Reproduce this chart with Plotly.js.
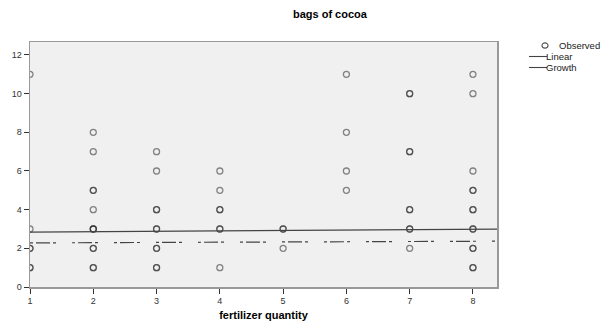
<!DOCTYPE html>
<html><head><meta charset="utf-8">
<script src="https://cdn.plot.ly/plotly-3.0.1.min.js"></script>
<style>body{margin:0;background:#fff}#c{width:611px;height:325px}</style>
</head><body><div id="c"></div>
<script>
// observed (fertilizer quantity, bags of cocoa); repeated pairs = overlapping cases
const fertilizer = [1,1,1,1,1,1,
  2,2,2,2,2,2,2,2,2,2,2,2,
  3,3,3,3,3,3,3,3,3,3,
  4,4,4,4,4,4,4,
  5,5,5,
  6,6,6,6,
  7,7,7,7,7,7,7,7,7,
  8,8,8,8,8,8,8,8,8,8,8,8,8];
const bags = [11,3,2,2,1,1,
  8,7,5,5,4,3,3,3,2,2,1,1,
  7,6,4,4,3,3,2,2,1,1,
  6,5,4,4,3,3,1,
  3,3,2,
  11,8,6,5,
  10,10,7,7,4,4,3,3,2,
  11,10,6,5,5,4,4,3,3,2,2,1,1];
const fitX = [1, 2, 3, 4, 5, 6, 7, 8, 8.4];
const linearFit = [2.84, 2.86, 2.88, 2.90, 2.92, 2.94, 2.96, 2.98, 2.99];
const growthFit = [2.28, 2.29, 2.31, 2.32, 2.33, 2.34, 2.35, 2.36, 2.37];
const xTicks = [1,2,3,4,5,6,7,8];
const yTicks = [0,2,4,6,8,10,12];
const legendNames = ['Observed', 'Linear', 'Growth'];

const FAM = 'Liberation Sans, Arial, sans-serif';
const font = {family: FAM, color: '#333', size: 9};
const GROWTH_DASH = '3px,3px,14px,3px,3px,16px';
const traces = [
  {type:'scatter', mode:'markers', name:legendNames[0], x: fertilizer, y: bags, cliponaxis: true,
   marker:{symbol:'circle-open', size:6, color:'rgba(40,40,40,0.55)', line:{width:1.3}}},
  {type:'scatter', mode:'lines', name:legendNames[1], x: fitX, y: linearFit,
   line:{color:'#444', width:1.2}},
  {type:'scatter', mode:'lines', name:legendNames[2], x: fitX, y: growthFit,
   line:{color:'#444', width:1.2, dash:GROWTH_DASH}}
];

// custom compact legend (paper coords from pixel positions)
const W = 611, H = 325, ML = 30, MR = 114, MT = 42, MB = 38;
const pw = W - ML - MR, ph = H - MT - MB;
const px = x => (x - ML) / pw;
const py = y => 1 - (y - MT) / ph;
const legY = [45.5, 56.5, 67.5];
const legFont = {family:FAM, size:9.5, color:'#222'};
const annotations = legendNames.map((t, i) => ({
  text: t, xref:'paper', yref:'paper', x: px(i === 0 ? 558 : 545), y: py(legY[i]),
  xanchor:'left', yanchor:'middle', showarrow:false, borderpad:0, font:legFont
}));
const shapes = [
  {type:'circle', xref:'paper', yref:'paper', xsizemode:'pixel', ysizemode:'pixel',
   xanchor: px(545), yanchor: py(legY[0]), x0:-3, x1:3, y0:-2.6, y1:2.6, line:{color:'#555', width:1.1}},
  {type:'line', xref:'paper', yref:'paper', x0: px(529), x1: px(547), y0: py(legY[1]), y1: py(legY[1]), line:{color:'#444', width:1.1}},
  {type:'line', xref:'paper', yref:'paper', x0: px(529), x1: px(547), y0: py(legY[2]), y1: py(legY[2]), line:{color:'#444', width:1.1}}
];

const layout = {
  width:W, height:H,
  margin:{l:ML, r:MR, t:MT, b:MB},
  paper_bgcolor:'#fff', plot_bgcolor:'#f0f0f0',
  font: font,
  title:{text:'<b>bags of cocoa</b>', font:{family:FAM, size:11, color:'#000'},
         x:0.54, xanchor:'center', y:0.955, yanchor:'middle'},
  xaxis:{range:[1, 8.38], tickvals:xTicks, ticks:'outside', ticklen:5, tickcolor:'#333',
         showgrid:false, zeroline:false, showline:true, linecolor:'#999', linewidth:1.5, mirror:true,
         tickfont:font,
         title:{text:'<b>fertilizer quantity</b>', font:{family:FAM, size:11, color:'#000'}, standoff:6}},
  yaxis:{range:[0, 12.67], tickvals:yTicks, ticks:'outside', ticklen:5, tickcolor:'#333',
         showgrid:false, zeroline:false, showline:true, linecolor:'#999', linewidth:1.5, mirror:true,
         tickfont:font},
  showlegend:false,
  annotations: annotations,
  shapes: shapes
};
Plotly.newPlot('c', traces, layout, {staticPlot:true, displayModeBar:false});
</script></body></html>
